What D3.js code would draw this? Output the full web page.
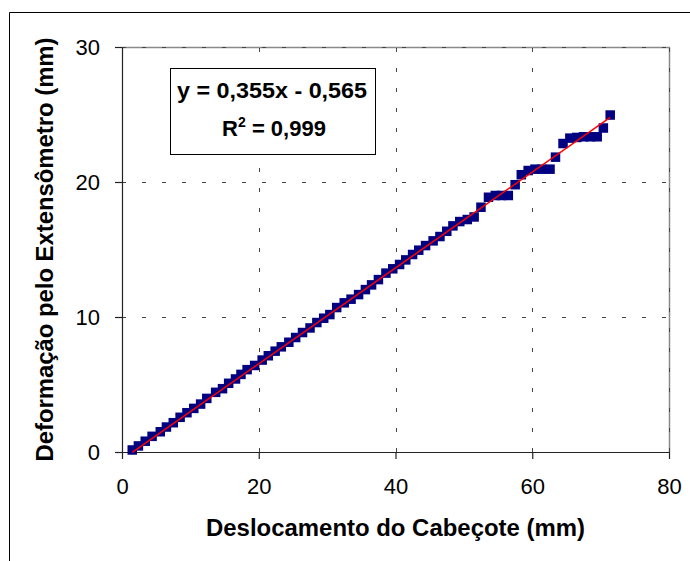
<!DOCTYPE html>
<html>
<head>
<meta charset="utf-8">
<script src="https://cdnjs.cloudflare.com/ajax/libs/d3/7.8.5/d3.min.js"></script>
<style>
  body { margin: 0; background: #fff; }
  svg { display: block; font-family: Arial, "Liberation Sans", sans-serif; }
</style>
</head>
<body>
<svg id="chart" width="690" height="561"></svg>
<script>
// readings (mm)
var deslocamento = [1.5, 2.4, 3.4, 4.4, 5.6, 6.5, 7.5, 8.5, 9.5, 10.5,
  11.5, 12.4, 13.7, 14.7, 15.6, 16.6, 17.4, 18.3, 19.4, 20.5,
  21.4, 22.4, 23.3, 24.4, 25.4, 26.4, 27.5, 28.5, 29.5, 30.4,
  31.4, 32.5, 33.5, 34.6, 35.6, 36.5, 37.5, 38.6, 39.6, 40.6,
  41.5, 42.5, 43.4, 44.4, 45.5, 46.5, 47.5, 48.4, 49.4, 50.5,
  51.5, 52.5, 53.6, 54.6, 55.5, 56.5, 57.5, 58.4, 59.4, 60.4,
  61.4, 62.6, 63.4, 64.5, 65.5, 66.5, 67.5, 68.5, 69.5, 70.4, 71.4];

var deformacao = [0.15, 0.45, 0.8, 1.16, 1.5, 1.85, 2.17, 2.57, 2.91, 3.23,
  3.55, 3.97, 4.42, 4.69, 5.09, 5.41, 5.75, 6.1, 6.41, 6.81,
  7.13, 7.47, 7.79, 8.13, 8.48, 8.85, 9.19, 9.59, 9.91, 10.18,
  10.7, 11.05, 11.32, 11.66, 12.03, 12.38, 12.77, 13.25, 13.57, 13.89,
  14.23, 14.63, 14.95, 15.29, 15.64, 15.96, 16.35, 16.75, 17.07, 17.22,
  17.41, 18.13, 18.87, 19.0, 19.0, 19.0, 19.8, 20.54, 20.85, 20.95,
  20.95, 20.95, 21.84, 22.85, 23.25, 23.3, 23.35, 23.35, 23.35, 24.0, 24.96];

var xTicks = [0, 20, 40, 60, 80];
var yTicks = [0, 10, 20, 30];

// linear trendline shown on the chart
var slope = 0.355;
var intercept = -0.565;
var equationLabel = "y = 0,355x - 0,565";
var r2Label = " = 0,999";

var xTitle = "Deslocamento do Cabeçote (mm)";
var yTitle = "Deformação pelo Extensômetro (mm)";

var svg = d3.select("#chart");

var plotLeft = 122, plotRight = 669, plotTop = 47, plotBottom = 452;

var x = d3.scaleLinear().domain([0, 80]).range([plotLeft, plotRight]);
var y = d3.scaleLinear().domain([0, 30]).range([plotBottom, plotTop]);

svg.append("rect")
  .attr("width", 690)
  .attr("height", 561)
  .attr("fill", "#fff");

// outer chart frame (runs off the right and bottom edges)
svg.append("path")
  .attr("d", "M9.5,570V12.5H700")
  .attr("fill", "none")
  .attr("stroke", "#000")
  .attr("stroke-width", 1);

// plot area border
svg.append("path")
  .attr("d", "M" + plotLeft + "," + (plotTop + 0.5) + "H" + (plotRight + 0.5) + "V" + plotBottom)
  .attr("fill", "none")
  .attr("stroke", "#8a8a8a")
  .attr("stroke-width", 1.5);

// dashed gridlines
svg.append("g")
  .selectAll("line")
  .data(xTicks.slice(1))
  .enter()
  .append("line")
  .attr("x1", function (d) { return Math.round(x(d)) + 0.5; })
  .attr("x2", function (d) { return Math.round(x(d)) + 0.5; })
  .attr("y1", plotBottom)
  .attr("y2", plotTop)
  .attr("stroke", "#444")
  .attr("stroke-dasharray", "4,16")
  .attr("stroke-width", 1);

svg.append("g")
  .selectAll("line")
  .data(yTicks.slice(1))
  .enter()
  .append("line")
  .attr("x1", plotLeft)
  .attr("x2", plotRight)
  .attr("y1", function (d) { return Math.round(y(d)) + 0.5; })
  .attr("y2", function (d) { return Math.round(y(d)) + 0.5; })
  .attr("stroke", "#444")
  .attr("stroke-dasharray", "4,16")
  .attr("stroke-width", 1);

// axes
var xAxis = svg.append("g")
  .attr("transform", "translate(0," + plotBottom + ")")
  .call(d3.axisBottom(x).tickValues(xTicks).tickSize(7).tickSizeOuter(0).tickFormat(d3.format("d")));

xAxis.selectAll("text")
  .attr("dy", null)
  .attr("y", 42)
  .attr("fill", "#000")
  .style("font-size", "22px");

var yAxis = svg.append("g")
  .attr("transform", "translate(" + plotLeft + ",0)")
  .call(d3.axisLeft(y).tickValues(yTicks).tickSize(7).tickSizeOuter(0).tickFormat(d3.format("d")));

yAxis.selectAll("text")
  .attr("x", -22)
  .attr("dy", "0.36em")
  .attr("fill", "#000")
  .style("font-size", "22px");

svg.selectAll(".domain, .tick line")
  .attr("stroke", "#222")
  .attr("stroke-width", 1.2);

// data points
var points = deslocamento.map(function (d, i) {
  return { x: d, y: deformacao[i] };
});

var size = 9.5;

svg.append("g")
  .selectAll("rect")
  .data(points)
  .enter()
  .append("rect")
  .attr("x", function (d) { return x(d.x) - size / 2; })
  .attr("y", function (d) { return y(d.y) - size / 2; })
  .attr("width", size)
  .attr("height", size)
  .attr("fill", "#000080");

// trendline
var xMin = d3.min(deslocamento), xMax = d3.max(deslocamento);

svg.append("line")
  .attr("x1", x(xMin))
  .attr("y1", y(slope * xMin + intercept))
  .attr("x2", x(xMax))
  .attr("y2", y(slope * xMax + intercept))
  .attr("stroke", "#ff0000")
  .attr("stroke-width", 1.5);

// equation box
svg.append("rect")
  .attr("x", 170.5)
  .attr("y", 68.5)
  .attr("width", 205)
  .attr("height", 86)
  .attr("fill", "#fff")
  .attr("stroke", "#000")
  .attr("stroke-width", 1);

svg.append("text")
  .attr("x", 272)
  .attr("y", 98)
  .attr("text-anchor", "middle")
  .attr("textLength", 190)
  .attr("lengthAdjust", "spacingAndGlyphs")
  .style("font-size", "22px")
  .style("font-weight", "bold")
  .text(equationLabel);

var r2 = svg.append("text")
  .attr("x", 274)
  .attr("y", 136)
  .attr("text-anchor", "middle")
  .style("font-size", "22px")
  .style("font-weight", "bold");

r2.append("tspan").text("R");
r2.append("tspan").attr("dy", -9).style("font-size", "14px").text("2");
r2.append("tspan").attr("dy", 9).text(r2Label);

// axis titles
svg.append("text")
  .attr("x", (plotLeft + plotRight) / 2)
  .attr("y", 536)
  .attr("text-anchor", "middle")
  .attr("textLength", 379)
  .attr("lengthAdjust", "spacingAndGlyphs")
  .style("font-size", "23px")
  .style("font-weight", "bold")
  .text(xTitle);

svg.append("text")
  .attr("transform", "translate(53," + ((plotTop + plotBottom) / 2) + ") rotate(-90)")
  .attr("text-anchor", "middle")
  .attr("textLength", 424)
  .attr("lengthAdjust", "spacingAndGlyphs")
  .style("font-size", "23px")
  .style("font-weight", "bold")
  .text(yTitle);
</script>
</body>
</html>
